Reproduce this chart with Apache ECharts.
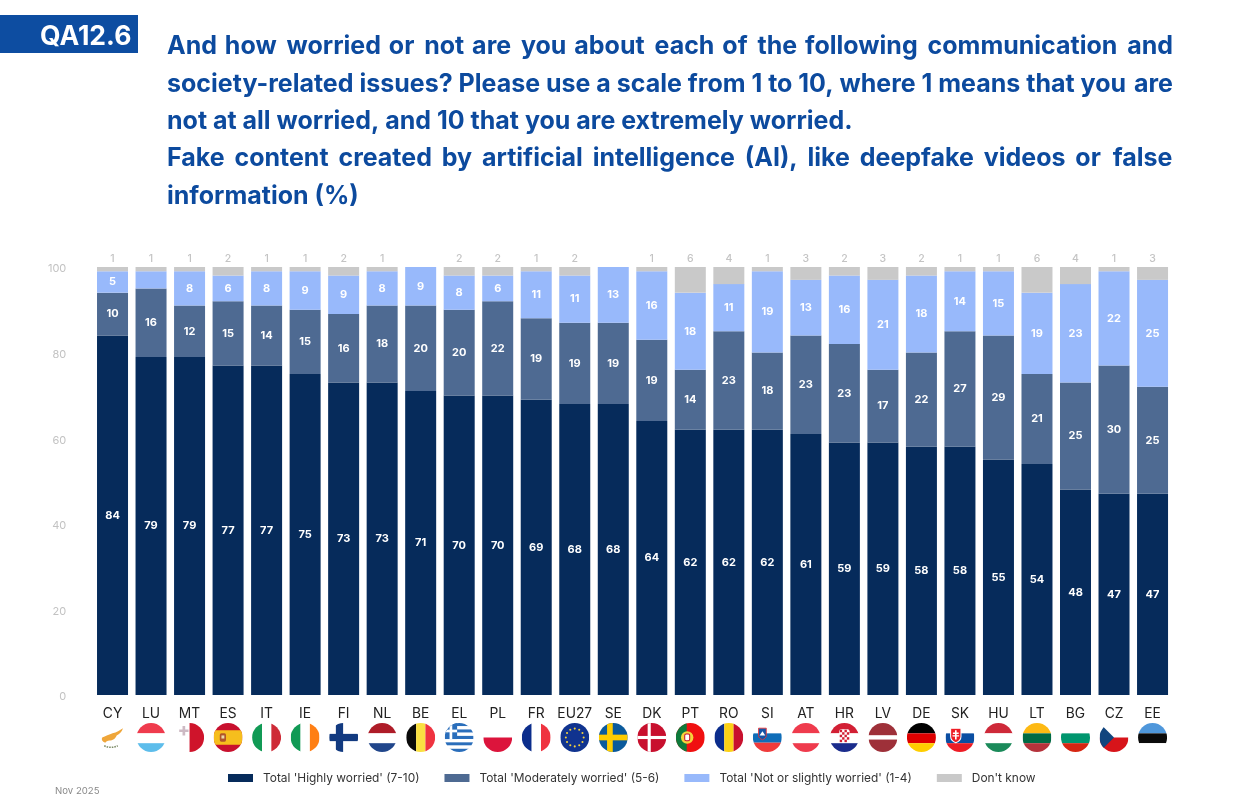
<!DOCTYPE html>
<html>
<head>
<meta charset="utf-8">
<title>QA12.6</title>
<style>html,body{margin:0;padding:0;background:#fff}#chart{width:1249px;height:798px}</style>
<script src="https://cdn.jsdelivr.net/npm/echarts@6/dist/echarts.min.js"></script>
</head>
<body>
<div id="chart"></div>
<script>
const categories = ['CY','LU','MT','ES','IT','IE','FI','NL','BE','EL','PL','FR','EU27','SE','DK','PT','RO','SI','AT','HR','LV','DE','SK','HU','LT','BG','CZ','EE'];
const highly     = [84,79,79,77,77,75,73,73,71,70,70,69,68,68,64,62,62,62,61,59,59,58,58,55,54,48,47,47];
const moderately = [10,16,12,15,14,15,16,18,20,20,22,19,19,19,19,14,23,18,23,23,17,22,27,29,21,25,30,25];
const slightly   = [5,4,8,6,8,9,9,8,9,8,6,11,11,13,16,18,11,19,13,16,21,18,14,15,19,23,22,25];
const dontKnow   = [1,1,1,2,1,1,2,1,0,2,2,1,2,0,1,6,4,1,3,2,3,2,1,1,6,4,1,3];

const seriesNames = ["Total 'Highly worried' (7-10)", "Total 'Moderately worried' (5-6)", "Total 'Not or slightly worried' (1-4)", "Don't know"];
const seriesColors = ['#062B5B', '#4E6A92', '#98B9FB', '#C9C9C9'];

const tagText = 'QA12.6';
const titleLines = [
  'And how worried or not are you about each of the following communication and',
  'society-related issues? Please use a scale from 1 to 10, where 1 means that you are',
  'not at all worried, and 10 that you are extremely worried.',
  'Fake content created by artificial intelligence (AI), like deepfake videos or false',
  'information (%)'
];
const justifiedLines = [true, true, false, true, false];
const footnote = 'Nov 2025';

// Stripe helpers for the round flag icons (28 x 28 box).
const h3 = (a, b, c) => `<rect width="28" height="10" fill="${a}"/><rect y="10" width="28" height="9.5" fill="${b}"/><rect y="19.5" width="28" height="8.5" fill="${c}"/>`;
const v3 = (a, b, c) => `<rect width="9.6" height="28" fill="${a}"/><rect x="9.6" width="9" height="28" fill="${b}"/><rect x="18.6" width="9.4" height="28" fill="${c}"/>`;
const nordic = (bg, fg, x, w) => `<rect width="28" height="28" fill="${bg}"/><rect x="${x}" width="${w}" height="28" fill="${fg}"/><rect y="${14 - w / 2}" width="28" height="${w}" fill="${fg}"/>`;
const euStars = Array.from({ length: 12 }, (_, i) => {
  const a = i * Math.PI / 6;
  return `<circle cx="${14 + 8.6 * Math.cos(a)}" cy="${14 + 8.6 * Math.sin(a)}" r="1" fill="#F5D33C"/>`;
}).join('');
const greece = [0, 1, 2, 3, 4, 5, 6, 7, 8].map(i => `<rect y="${i * 3.11}" width="28" height="3.11" fill="${i % 2 ? '#fff' : '#2A6EBB'}"/>`).join('')
  + '<rect width="12" height="15.5" fill="#2A6EBB"/><rect x="4.7" width="2.6" height="15.5" fill="#fff"/><rect y="6.4" width="12" height="2.6" fill="#fff"/>';
const croatia = h3('#D21F34', '#fff', '#1B2C8C') + '<rect x="9" y="6" width="10" height="13" rx="2" fill="#fff"/>'
  + [0, 1, 2, 3, 4].map(r => [0, 1, 2, 3].map(c => (r + c) % 2 ? '' : `<rect x="${9.5 + c * 2.3}" y="${6.5 + r * 2.4}" width="2.3" height="2.4" fill="#D21F34"/>`).join('')).join('');

const flagArt = {
  CY: '<path d="M4 14c3-1 7-3 10-4 4-1 7-3 10-5-1 4-4 6-6 7-1 3-4 5-7 5-2 0-3 1-4 2-3-1-4-3-3-5z" fill="#EFA63A"/><path d="M6 22c4 2 9 2 13 0" stroke="#7C8B66" stroke-width="1.5" fill="none" stroke-dasharray="1.5 1"/>',
  LU: h3('#EF3B4D', '#fff', '#5DBDEB'),
  MT: '<rect x="14" width="14" height="28" fill="#CF142B"/><path d="M7.200 3h2.600v3.200H13v2.600H9.800V12H7.200V8.800H4V6.200h3.200z" fill="#CDBAC4"/>',
  ES: '<rect width="28" height="28" fill="#C8102E"/><rect y="7" width="28" height="14" fill="#F6BE1D"/><rect x="6" y="10" width="6" height="8" rx="1.5" fill="#B0552A"/><rect x="7.6" y="12" width="2.8" height="3" fill="#E9D9A6"/>',
  IT: v3('#119A55', '#fff', '#CE2B37'),
  IE: v3('#119A55', '#fff', '#FF7F14'),
  FI: nordic('#fff', '#123A80', 6.5, 7),
  NL: h3('#AE1C28', '#fff', '#21468B'),
  BE: v3('#0A0A0A', '#FAE042', '#EF3340'),
  EL: greece,
  PL: '<rect y="14" width="28" height="14" fill="#DC143C"/>',
  FR: v3('#0B2D8C', '#fff', '#EF3340'),
  EU27: '<rect width="28" height="28" fill="#10338F"/>' + euStars,
  SE: nordic('#0B5A9C', '#FECC00', 8, 5.5),
  DK: nordic('#C8102E', '#fff', 10, 3),
  PT: '<rect width="28" height="28" fill="#F01010"/><rect width="10.5" height="28" fill="#0E7A3B"/><circle cx="11" cy="14" r="6" fill="#F5D33C"/><rect x="8.6" y="10.6" width="4.8" height="6.6" rx="1.4" fill="#fff" stroke="#C8102E" stroke-width="1"/>',
  RO: v3('#0B2D8C', '#FCD116', '#C8102E'),
  SI: '<rect y="10" width="28" height="9" fill="#0F6DB8"/><rect y="19" width="28" height="9" fill="#EF3B3B"/><path d="M5.500 5h7.500v7c0 2.200-1.800 3.300-3.750 4.200C7.300 15.300 5.500 14.200 5.500 12z" fill="#1454A8" stroke="#E33" stroke-width=".8"/><path d="M6.500 12l2.750-4 2.750 4z" fill="#fff"/>',
  AT: h3('#EF3B4D', '#fff', '#EF3B4D'),
  HR: croatia,
  LV: '<rect width="28" height="12" fill="#9E3039"/><rect y="12" width="28" height="4" fill="#fff"/><rect y="16" width="28" height="12" fill="#9E3039"/>',
  DE: h3('#000', '#DD0000', '#FFCE00'),
  SK: h3('#fff', '#0B4EA2', '#EE1C25') + '<path d="M5 5h10v8c0 3-2.500 5-5 6-2.500-1-5-3-5-6z" fill="#EE1C25" stroke="#fff" stroke-width="1"/><path d="M9.200 7h1.600v2.200h2v1.300h-2v1.300h2.400v1.300h-2.400V16H9.200v-2.900H6.800v-1.300h2.400v-1.300h-2V9.200h2z" fill="#fff"/>',
  HU: h3('#CE2939', '#fff', '#1B8A5A'),
  LT: h3('#FDB913', '#006A44', '#B5323B'),
  BG: h3('#fff', '#00966E', '#D62612'),
  CZ: '<rect y="14" width="28" height="14" fill="#D7141A"/><path d="M0 0l14 14L0 28z" fill="#11457E"/>',
  EE: h3('#4F97DB', '#0A0A0A', '#fff')
};

// Every flag is one small SVG clipped to a circle, used as a rich-label background.
function flagUri(code) {
  const svg = `<svg xmlns="http://www.w3.org/2000/svg" width="58" height="58" viewBox="0 0 28 28"><defs><clipPath id="c"><circle cx="14" cy="14" r="14"/></clipPath></defs><g clip-path="url(#c)">${flagArt[code]}</g></svg>`;
  return 'data:image/svg+xml;charset=utf-8,' + encodeURIComponent(svg);
}

const FONT = 'Inter, "Open Sans", sans-serif';
const richStyles = {
  code: { fontFamily: FONT, fontSize: 13.8, color: '#222', lineHeight: 18, align: 'center', verticalAlign: 'middle' }
};
categories.forEach((c, i) => {
  richStyles['f' + i] = { width: 29, height: 29, align: 'center', backgroundColor: { image: flagUri(c) } };
});

// Pads the word gaps of a line with hair spaces until it fills the column.
function justify(line, width, font) {
  const ctx = document.createElement('canvas').getContext('2d');
  ctx.font = font;
  const words = line.split(' ');
  const gaps = words.length - 1;
  const deficit = width - ctx.measureText(line).width;
  const hair = ctx.measureText('\u200A').width || 1;
  if (deficit <= 0 || !gaps) return line;
  const total = Math.ceil(deficit / hair);
  let out = words[0];
  for (let i = 1; i < words.length; i++) {
    const n = Math.floor(total * i / gaps) - Math.floor(total * (i - 1) / gaps);
    out += ' ' + '\u200A'.repeat(n) + words[i];
  }
  return out;
}

const titleFont = '700 25px Inter';
const titleY = [46, 84, 121, 158, 196];
const titleGraphics = titleLines.map((line, i) => ({
  type: 'text', left: 167, top: titleY[i] - 15, silent: true,
  style: {
    text: justifiedLines[i] ? justify(line, 1005, titleFont) : line,
    font: titleFont, fill: '#0C4A9E', lineHeight: 30
  }
}));

const barLabel = {
  show: true, position: 'inside', color: '#fff', fontFamily: FONT, fontSize: 11, fontWeight: 700,
  formatter: p => (p.value >= 5 ? p.value : '')
};
const seriesValues = [highly, moderately, slightly, dontKnow];

const chart = echarts.init(document.getElementById('chart'), null, { renderer: 'canvas' });
chart.setOption({
  backgroundColor: '#fff',
  animation: false,
  grid: { left: 93.26, right: 77.2, top: 267, bottom: 103, containLabel: false },
  legend: {
    left: 223, top: 767, itemWidth: 25, itemHeight: 8, itemGap: 25, icon: 'rect',
    selectedMode: false,
    textStyle: { fontFamily: FONT, fontSize: 11.9, color: '#333', padding: [0, 0, 0, 5] },
    data: seriesNames
  },
  xAxis: {
    type: 'category', data: categories,
    axisLine: { show: false }, axisTick: { show: false },
    axisLabel: {
      interval: 0, margin: 10, hideOverlap: false,
      formatter: (v, i) => `{code|${v}}\n{f${i}|}`,
      rich: richStyles
    }
  },
  yAxis: {
    type: 'value', min: 0, max: 100, interval: 20,
    splitLine: { show: false }, axisLine: { show: false }, axisTick: { show: false },
    axisLabel: {
      margin: 27,
      formatter: v => `{t|${v}}`,
      rich: { t: { color: '#C2C2C2', fontFamily: FONT, fontSize: 11, lineHeight: 11, padding: [4, 0, 0, 0] } }
    }
  },
  series: seriesNames.map((name, k) => ({
    name, type: 'bar', stack: 'total', barWidth: 31,
    data: seriesValues[k],
    itemStyle: { color: seriesColors[k] },
    label: k < 3 ? barLabel : {
      show: true, position: 'top', distance: 3, color: '#C4C4C4', fontFamily: FONT, fontSize: 10.5, fontWeight: 500,
      formatter: p => (p.value > 0 ? p.value : '')
    }
  })),
  graphic: [
    { type: 'rect', silent: true, shape: { x: 0, y: 15, width: 138, height: 38 }, style: { fill: '#0D4DA1' } },
    { type: 'text', silent: true, left: 40, top: 24, style: { text: tagText, font: '700 26.5px Inter', fill: '#fff' } },
    { type: 'text', silent: true, left: 55, top: 786, style: { text: footnote, font: '9.6px Inter', fill: '#8a8a8a' } },
    ...titleGraphics
  ]
});
</script>
</body>
</html>
